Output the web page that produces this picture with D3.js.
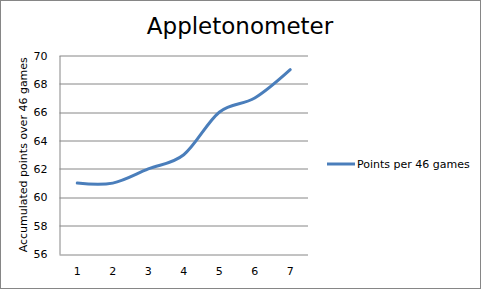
<!DOCTYPE html>
<meta charset="utf-8">
<script src="https://d3js.org/d3.v7.min.js"></script>
<style>
  body { margin: 0; background: #fff; }
  text { font-family: "DejaVu Sans", Verdana, sans-serif; fill: #000; }
</style>
<div id="chart"></div>
<script>

// data
var games = ["1", "2", "3", "4", "5", "6", "7"];
var points = [61, 61, 62, 63, 66, 67, 69];
var yTicks = [56, 58, 60, 62, 64, 66, 68, 70];
var seriesName = "Points per 46 games";

var W = 481, H = 289;
var margin = {top: 55.5, right: 173, bottom: 35, left: 59.5},
    width = W - margin.left - margin.right,
    height = H - margin.top - margin.bottom;

var root = d3.select("#chart").append("svg")
    .attr("width", W)
    .attr("height", H);

// outer border of the chart
root.append("rect")
    .attr("x", 0.5).attr("y", 0.5)
    .attr("width", W - 1).attr("height", H - 1)
    .attr("fill", "#fff")
    .attr("stroke", "#868686");

root.append("text")
    .attr("x", 240)
    .attr("y", 34)
    .attr("text-anchor", "middle")
    .style("font-size", "23px")
    .text("Appletonometer");

var svg = root.append("g")
    .attr("transform", "translate(" + margin.left + "," + margin.top + ")");

var x = d3.scaleBand()
    .domain(games)
    .range([0, width]);

var y = d3.scaleLinear()
    .domain([56, 70])
    .range([height, 0]);

// gridlines
svg.append("g")
  .selectAll("line")
  .data(yTicks)
  .enter()
  .append("line")
    .attr("x1", 0)
    .attr("x2", width)
    .attr("y1", function(d) { return Math.round(y(d)) + 0.5 })
    .attr("y2", function(d) { return Math.round(y(d)) + 0.5 })
    .attr("stroke", "#868686");

// Y axis
var yAxis = svg.append("g")
    .call(d3.axisLeft(y).tickValues(yTicks).tickSize(0).tickPadding(12));
yAxis.select(".domain").attr("stroke", "#868686");
yAxis.selectAll("text").style("font-size", "11px");

// X axis
var xAxis = svg.append("g")
    .attr("transform", "translate(0," + height + ")")
    .call(d3.axisBottom(x).tickSize(0).tickPadding(13));
xAxis.select(".domain").remove();
xAxis.selectAll("text").style("font-size", "11px");

svg.append("text")
    .attr("transform", "translate(-33," + (height / 2) + ") rotate(-90)")
    .attr("text-anchor", "middle")
    .style("font-size", "11px")
    .text("Accumulated points over 46 games");

// smoothed line
svg.append("path")
    .datum(points)
    .attr("d", d3.line()
      .x(function(d, i) { return x(games[i]) + x.bandwidth() / 2 })
      .y(function(d) { return y(d) })
      .curve(d3.curveCardinal.tension(0))
    )
    .attr("fill", "none")
    .attr("stroke", "#4a7ebb")
    .attr("stroke-width", 3)
    .attr("stroke-linecap", "round");

// legend
var legend = root.append("g").attr("transform", "translate(327,164)");
legend.append("line")
    .attr("x1", 0).attr("x2", 28)
    .attr("stroke", "#4a7ebb")
    .attr("stroke-width", 3);
legend.append("text")
    .attr("x", 30)
    .attr("dy", "0.35em")
    .style("font-size", "11px")
    .text(seriesName);

</script>
